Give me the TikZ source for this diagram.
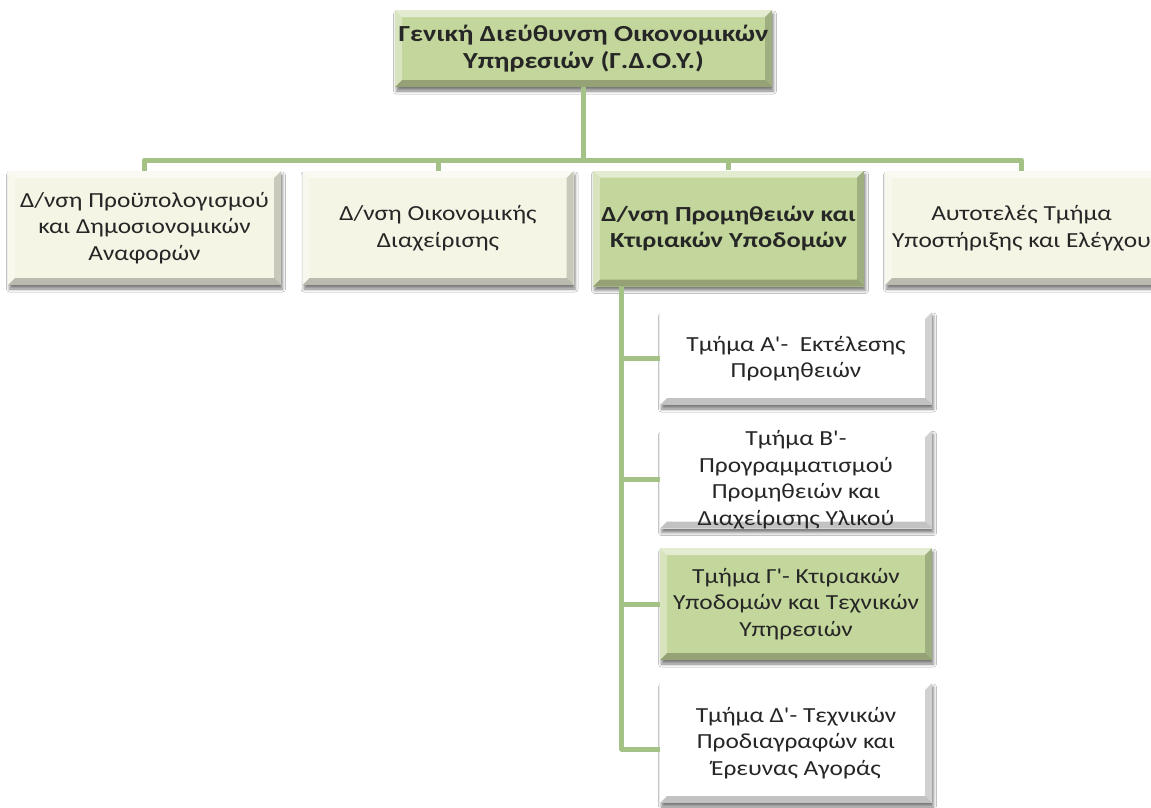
\documentclass[tikz,border=0pt]{standalone}
\usepackage{fontspec}
\setmainfont{Carlito}[Ligatures=TeXOff, FakeStretch=1.18]
\newfontfamily\bfam{Carlito}[Ligatures=TeXOff, FakeStretch=1.23]
\usetikzlibrary{shadows.blur,calc}
\definecolor{gfill}{HTML}{C3D69B}
\definecolor{cfill}{HTML}{F5F5E5}
\definecolor{wfill}{HTML}{FFFFFF}
\definecolor{conncol}{HTML}{A4C285}
\definecolor{txtcol}{HTML}{262626}
\tikzset{
  bevel/.style={path picture={
    \fill[white,opacity=.55] (path picture bounding box.north west) -- (path picture bounding box.north east)
      -- ($(path picture bounding box.north east)+(-7pt,-7pt)$) -- ($(path picture bounding box.north west)+(7pt,-7pt)$) -- cycle;
    \fill[white,opacity=.35] (path picture bounding box.north west) -- (path picture bounding box.south west)
      -- ($(path picture bounding box.south west)+(7pt,7pt)$) -- ($(path picture bounding box.north west)+(7pt,-7pt)$) -- cycle;
    \fill[black,opacity=.18] (path picture bounding box.north east) -- (path picture bounding box.south east)
      -- ($(path picture bounding box.south east)+(-7pt,7pt)$) -- ($(path picture bounding box.north east)+(-7pt,-7pt)$) -- cycle;
    \fill[black,opacity=.24] (path picture bounding box.south west) -- (path picture bounding box.south east)
      -- ($(path picture bounding box.south east)+(-7pt,7pt)$) -- ($(path picture bounding box.south west)+(7pt,7pt)$) -- cycle;
  }},
  orgbox/.style={rectangle, draw=none, bevel, align=center, text=txtcol,
    font=\fontsize{21.5}{26.5}\selectfont, inner sep=0pt,
    blur shadow={shadow xshift=1.5pt,shadow yshift=-4pt,shadow blur radius=3pt,shadow opacity=50}},
  greenbox/.style={orgbox, fill=gfill},
  creambox/.style={orgbox, fill=cfill},
  whitebox/.style={orgbox, fill=wfill},
  conn/.style={draw=conncol, line width=5pt, line join=round},
}
\begin{document}
\begin{tikzpicture}[x=1pt,y=-1pt]
\useasboundingbox (0,0) rectangle (1151,807);
\fill[white] (0,0) rectangle (1151,807);

\node[greenbox, minimum width=377pt, minimum height=77pt, font=\fontsize{23}{27}\selectfont\bfam\bfseries] (top) at (583.5,48.5)
  {Γενική Διεύθυνση Οικονομικών\\Υπηρεσιών (Γ.Δ.Ο.Υ.)};

\node[creambox, minimum width=273pt, minimum height=114pt] (b1) at (144.5,228)
  {Δ/νση Προϋπολογισμού\\και Δημοσιονομικών\\Αναφορών};
\node[creambox, minimum width=271pt, minimum height=114pt] (b2) at (438,228)
  {Δ/νση Οικονομικής\\Διαχείρισης};
\node[greenbox, minimum width=271pt, minimum height=116pt, font=\fontsize{21.5}{26.5}\selectfont\bfam\bfseries] (b3) at (728.5,228.5)
  {Δ/νση Προμηθειών και\\Κτιριακών Υποδομών};
\node[creambox, minimum width=273pt, minimum height=114pt] (b4) at (1021.5,228)
  {Αυτοτελές Τμήμα\\Υποστήριξης και Ελέγχου};

\node[whitebox, minimum width=272pt, minimum height=93pt] (ca) at (796,358.5)
  {Τμήμα Α'-\ \ Εκτέλεσης\\Προμηθειών};
\node[whitebox, minimum width=272pt, minimum height=95pt] (cb) at (796,479.5)
  {Τμήμα Β'-\\Προγραμματισμού\\Προμηθειών και\\Διαχείρισης Υλικού};
\node[greenbox, minimum width=272pt, minimum height=112pt] (cc) at (796,604)
  {Τμήμα Γ'- Κτιριακών\\Υποδομών και Τεχνικών\\Υπηρεσιών};
\node[whitebox, minimum width=272pt, minimum height=120pt] (cd) at (796,743)
  {Τμήμα Δ'- Τεχνικών\\Προδιαγραφών και\\Έρευνας Αγοράς};

\coordinate (barY) at (0,160);
\draw[conn] (top.south) -- (top.south |- barY) -| (b1.north);
\draw[conn] (top.south |- barY) -| (b4.north);
\draw[conn] (b2.north |- barY) -- (b2.north);
\draw[conn] (b3.north |- barY) -- (b3.north);

\coordinate (stem) at ($(b3.south west)+(29pt,0pt)$);
\draw[conn] (stem) |- (ca.west);
\draw[conn] (stem) |- (cb.west);
\draw[conn] (stem) |- (cc.west);
\draw[conn] (stem) |- ($(cd.west)+(0pt,-6pt)$);
\end{tikzpicture}
\end{document}
